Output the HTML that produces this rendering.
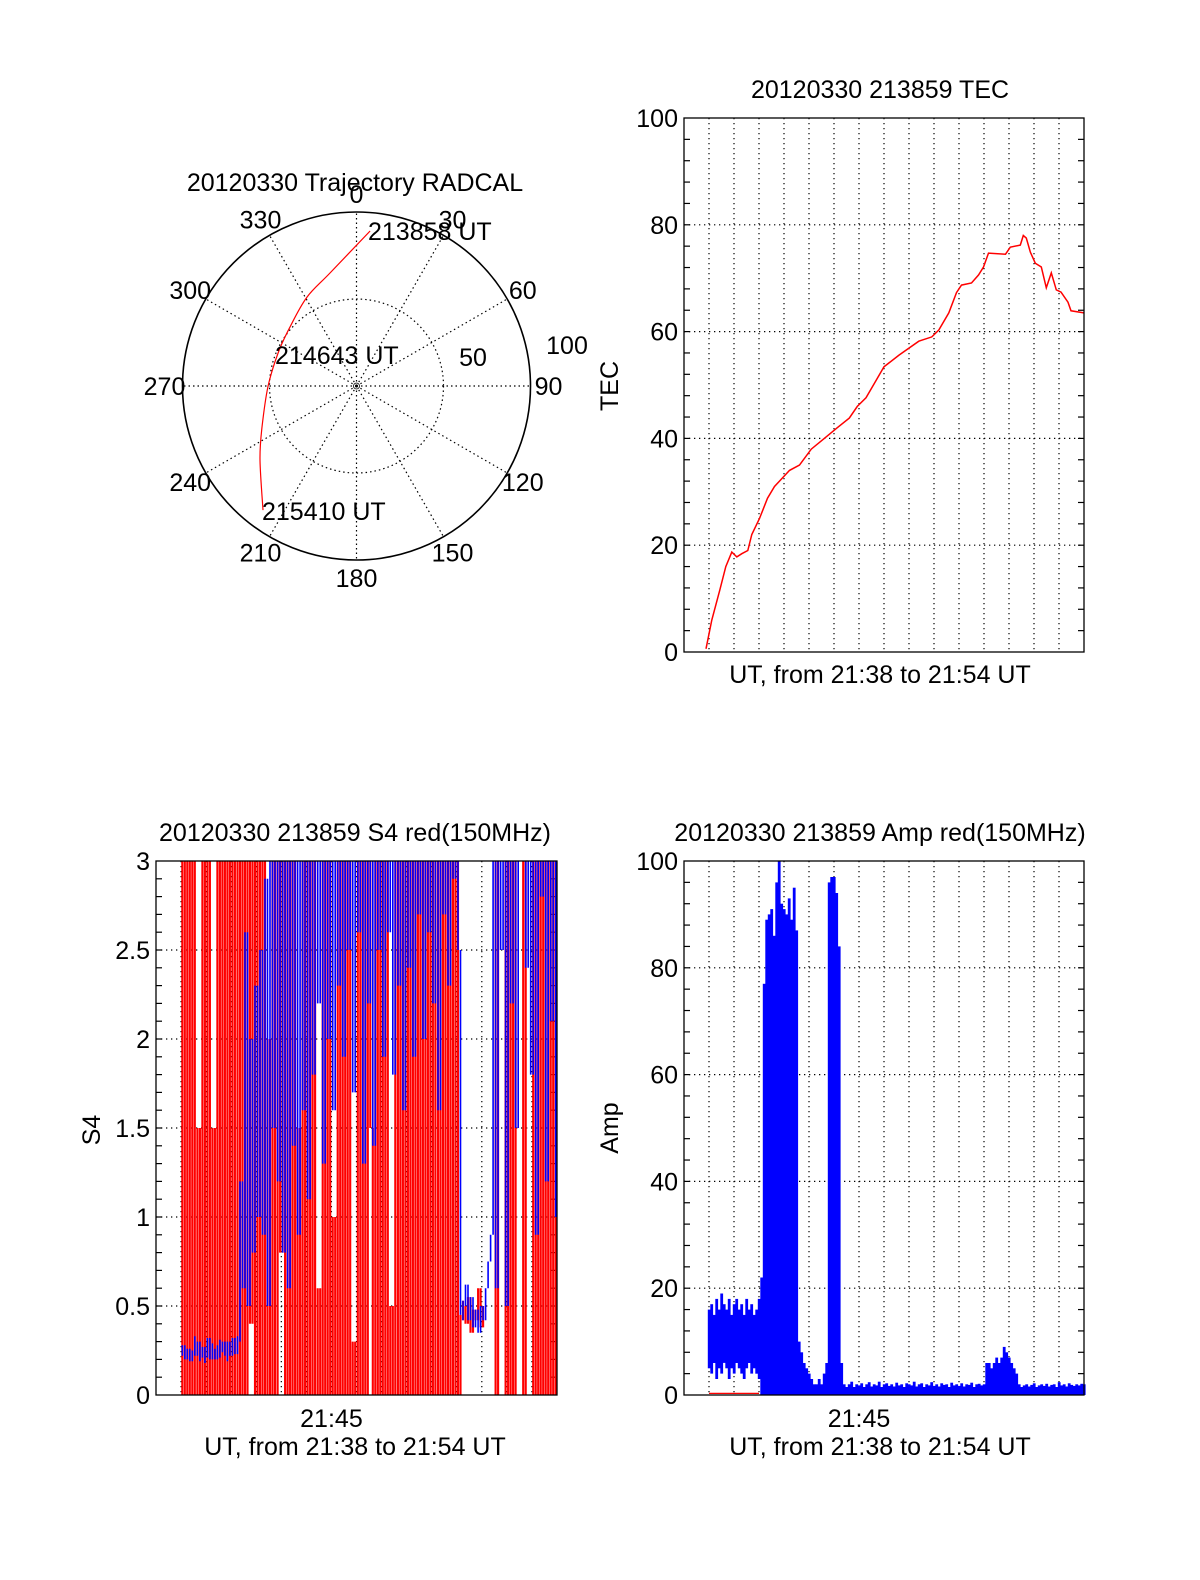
<!DOCTYPE html>
<html><head><meta charset="utf-8"><style>
html,body{margin:0;padding:0;background:#fff;}
svg text{font-family:"Liberation Sans",sans-serif;font-size:25px;fill:#000;}
</style></head><body>
<svg id="fig" width="1200" height="1575" viewBox="0 0 1200 1575" xmlns="http://www.w3.org/2000/svg">
<rect width="1200" height="1575" fill="#fff"/>
<g id="polar"></g>
<g id="tec"></g>
<g id="s4"></g>
<g id="amp"></g>
</svg>
<script>
// ---------- data ----------
const trajAz = [5.0, 346.8, 330.9, 311.6, 292.8, 269.4, 246.5, 232.5, 217.0];
const trajR = [89.4, 66.7, 58.5, 51.1, 48.9, 50.9, 59.2, 69.9, 89.3];
const polarAngleLabels = [0,30,60,90,120,150,180,210,240,270,300,330];

const tecT = [0.88,1.11,1.43,1.67,1.91,2.11,2.31,2.55,2.71,3.02,3.34,3.62,3.82,4.22,4.62,5.09,5.61,6.13,6.61,6.93,7.28,8.0,8.6,9.39,9.91,10.19,10.59,10.9,11.1,11.5,11.78,11.98,12.18,12.86,13.05,13.45,13.57,13.69,13.85,14.05,14.29,14.49,14.69,14.89,15.08,15.36,15.48,16];
const tecV = [0.6,6,11.6,16,18.7,17.8,18.4,19,22,25,28.8,31,32,34,35,38,40,42,43.8,46,47.6,53.4,55.6,58.2,59,60.3,63.5,67.3,68.7,69.1,70.6,72.1,74.7,74.5,75.8,76.2,78,77.5,74.9,72.8,72.1,68.2,71,67.8,67.4,65.5,63.9,63.5];
const tecYTicks = [0,20,40,60,80,100];

const s4Start = 1.0, s4Step = 0.1;
const s4Red = [
0,3.5,0,3.5,0,3.5,0,1.5,0,3.5,0,3.5,0,1.5,0,3.5,0,3.5,0,3.5,0,3.5,0,
3.5,0,3.5,0,3.5,0.4,3.5,0,3.5,0,
3.5,0,2.0,0,3.5,0,3.5,0.8,3.5,0,
3.5,0,3.5,0,1.5,0,3.5,0,3.5,0,
3.5,0,0.6,0,3.5,0,3.5,0,1.0,0,
3.5,0,3.5,0,3.5,0,0.3,0,3.5,0,
3.5,0,3.5,1.5,0,3.5,0,3.5,0,3.5,
0,0.5,0,3.5,0,3.5,0,3.5,0,3.5,
0,3.5,0,3.5,0,3.5,0,3.5,0,3.5,
0,3.5,0,3.5,0,3.5,0,3.5,0,
0.45,0.5,0.4,0.55,0.35,0.48,0.42,0.6,0.38,0.5,null,null,null,
0.0,3.5,0.0,null,0.0,3.5,0.0,3.5,0.0,3.5,null,0.0,3.5,0.0,null,0.0,3.5,0.0,3.5,0.0,3.5,0.0,3.5,0.0,3.5,0.0
];
const s4Blue = [
0.22,0.28,0.2,0.26,0.19,0.25,0.3,0.22,0.27,0.21,0.24,0.29,0.23,0.26,0.2,0.28,0.24,0.3,0.22,0.27,0.25,0.29,0.26,
0.3,1.2,0.6,2.6,0.5,2.0,0.8,2.3,1.0,2.5,0.9,2.9,0.5,3.2,1.5,3.5,1.2,3.4,0.8,3.6,0.6,3.2,1.4,3.5,0.9,3.3,1.6,3.6,1.1,3.4,1.8,3.5,2.2,3.6,1.3,3.2,2.0,3.5,1.6,3.4,2.3,3.6,1.9,3.3,2.5,3.5,1.7,3.4,2.6,3.6,1.3,3.3,2.2,3.5,1.4,3.4,2.5,3.6,1.9,3.5,2.6,3.3,1.8,3.5,2.3,3.6,1.6,3.4,2.4,3.5,1.9,3.6,2.7,3.3,2.0,3.5,2.6,3.4,2.2,3.6,1.6,3.3,2.7,3.5,2.3,3.4,2.9,3.6,2.5,
0.45,0.5,0.62,0.42,0.55,0.38,0.48,0.35,0.5,0.42,0.6,0.75,0.9,
3.5,0.6,3.4,2.5,3.6,0.5,3.3,2.2,3.5,1.5,3.4,3.0,3.6,2.4,3.3,1.8,3.5,0.9,3.4,2.8,3.6,1.2,3.3,2.1,3.5,1.0
];
const s4YTicks = [0,0.5,1,1.5,2,2.5,3];
const s4YLabels = ["0","0.5","1","1.5","2","2.5","3"];

const ampStart = 1.0, ampStep = 0.1;
const ampHigh = [
16,17,15,18,16,19,17,16,18,15,17,18,16,17,15,18,16,17,15,16,18,
22,77,89,90,91,86,96,100,92,91,90,93,89,95,87,10,
8,6,5,4,3,2,2,3,2,4,6,
96,97,97,94,84,6,
2,1.5,2,2.5,1.5,2,1.8,2.2,1.5,2,2.4,1.6,2,1.8,2.5,1.5,2,2.2,1.7,2,1.6,2.3,1.8,2,1.5,2.2,2,1.8,2.5,1.6,2,2.2,1.5,2,1.8,2.4,1.7,2,1.6,2.2,1.9,2,1.5,2.3,1.8,2,1.7,2.2,1.6,2,1.9,2.3,1.5,2,2.1,1.8,2,
6,6,5,6,7,6,7,9,8,7,6,5,4,
2,1.5,1.8,2,1.6,1.9,2.2,1.5,1.8,2,1.7,2.1,1.6,1.9,2,1.5,2.4,1.8,2,1.6,2.2,1.9,1.7,2,1.8,2.1,2
];
const ampLow = [
5,4,6,3,5,4,6,5,3,5,4,6,5,4,3,5,6,4,5,4,3
];
const ampYTicks = [0,20,40,60,80,100];
const ampRedT = [1.0, 3.0];
const ampRedV = [0.3, 0.3];

// ---------- helpers ----------
const NS = "http://www.w3.org/2000/svg";
function mk(parent, tag, attrs, text){
  const e = document.createElementNS(NS, tag);
  for (const k in attrs) e.setAttribute(k, attrs[k]);
  if (text !== undefined) e.textContent = text;
  parent.appendChild(e);
  return e;
}
function axesBox(g, L, R, T, B, prefix){
  const box = mk(g, "rect", {x:L, y:T, width:R-L, height:B-T, fill:"none", stroke:"#000", "stroke-width":1.3});
  
  
}

// ---------- polar ----------
(function(){
  const g = document.getElementById("polar");
  const cx = 356.5, cy = 386, R = 174, rs = R/100;
  const outer = mk(g, "circle", {cx:cx, cy:cy, r:R, fill:"none", stroke:"#000", "stroke-width":1.6});
  
  
  const inner = mk(g, "circle", {cx:cx, cy:cy, r:50*rs, fill:"none", stroke:"#000", "stroke-width":1.2, "stroke-dasharray":"1.5 3"});
  
  
  const c0 = mk(g, "circle", {cx:cx, cy:cy, r:3, fill:"none", stroke:"#000", "stroke-width":0.8});
  
  
  polarAngleLabels.forEach(a => {
    const rad = a*Math.PI/180;
    const sp = mk(g, "line", {x1:cx, y1:cy, x2:cx+R*Math.sin(rad), y2:cy-R*Math.cos(rad), stroke:"#000", "stroke-width":1.2, "stroke-dasharray":"1.5 3"});
    
    
    const lx = cx + 192*Math.sin(rad), ly = cy - 192*Math.cos(rad);
    const t = mk(g, "text", {x:lx, y:ly+9, "text-anchor":"middle"}, String(a));
    
    
  });
  const pts = trajAz.map((az,i)=>{
    const rad = az*Math.PI/180;
    return [cx + trajR[i]*rs*Math.sin(rad), cy - trajR[i]*rs*Math.cos(rad)];
  });
  let d = "M" + pts[0][0].toFixed(1) + " " + pts[0][1].toFixed(1);
  for (let i=0;i<pts.length-1;i++){
    const p0 = pts[Math.max(i-1,0)], p1 = pts[i], p2 = pts[i+1], p3 = pts[Math.min(i+2,pts.length-1)];
    const c1 = [p1[0]+(p2[0]-p0[0])/6, p1[1]+(p2[1]-p0[1])/6];
    const c2 = [p2[0]-(p3[0]-p1[0])/6, p2[1]-(p3[1]-p1[1])/6];
    d += " C" + c1[0].toFixed(1)+" "+c1[1].toFixed(1)+" "+c2[0].toFixed(1)+" "+c2[1].toFixed(1)+" "+p2[0].toFixed(1)+" "+p2[1].toFixed(1);
  }
  const p = mk(g, "path", {d:d, fill:"none", stroke:"#f00", "stroke-width":1.2, "stroke-linejoin":"round"});
  
  
  const texts = [
    ["polar-title", 355, 191, "middle", "20120330 Trajectory RADCAL"],
    ["radius-label-100", 567, 354, "middle", "100"],
    ["radius-label-50", 473, 366, "middle", "50"],
    ["start-time-label", 368, 240, "start", "213858 UT"],
    ["mid-time-label", 275, 364, "start", "214643 UT"],
    ["end-time-label", 262, 520, "start", "215410 UT"]
  ];
  texts.forEach(tt => {
    const t = mk(g, "text", {x:tt[1], y:tt[2], "text-anchor":tt[3]}, tt[4]);
    
    
  });
})();

function frame(g, L, R, T, B, prefix, ticks, labels, ymax, minorStep){
  const yv = v => B - v/ymax*(B-T);
  for (let m=1;m<16;m++){
    const x = L + m*(R-L)/16;
    const gl = mk(g, "line", {x1:x, y1:T, x2:x, y2:B, stroke:"#000", "stroke-width":1.2, "stroke-dasharray":"1.3 3.7"});
    
    
  }
  ticks.forEach((v,i) => {
    const y = yv(v);
    if (v>0 && v<ymax){
      const gl = mk(g, "line", {x1:L, y1:y, x2:R, y2:y, stroke:"#000", "stroke-width":1.2, "stroke-dasharray":"1.3 3.7"});
      
      
    }
    const t = mk(g, "text", {x:L-6, y:y+9, "text-anchor":"end"}, labels[i]);
    
    
  });
  for (let v=minorStep; v<ymax-1e-6; v+=minorStep){
    const y = yv(v);
    const a = mk(g, "line", {x1:L, y1:y, x2:L+6, y2:y, stroke:"#000", "stroke-width":1.2});
    
    
    const b = mk(g, "line", {x1:R-6, y1:y, x2:R, y2:y, stroke:"#000", "stroke-width":1.2});
    
    
  }
  return yv;
}

// ---------- TEC ----------
(function(){
  const g = document.getElementById("tec");
  const L=684,R=1084,T=118,B=652;
  const xv = t => L + t*(R-L)/16;
  const yv = frame(g,L,R,T,B,"tec",tecYTicks,tecYTicks.map(String),100,4);
  let d="";
  tecT.forEach((t,i)=>{ d += (i?" L":"M") + xv(t).toFixed(1) + " " + yv(tecV[i]).toFixed(1); });
  const p = mk(g,"path",{d:d,fill:"none",stroke:"#f00","stroke-width":1.5});
  
  
  axesBox(g,L,R,T,B,"tec");
  const t1 = mk(g,"text",{x:880,y:98,"text-anchor":"middle"},"20120330 213859 TEC");
  
  
  const t2 = mk(g,"text",{x:880,y:683,"text-anchor":"middle"},"UT, from 21:38 to 21:54 UT");
  
  
  const t3 = mk(g,"text",{x:0,y:0,"text-anchor":"middle",transform:"translate(618,386) rotate(-90)"},"TEC");
  
  
})();

// ---------- S4 ----------
(function(){
  const g = document.getElementById("s4");
  const L=156,R=557,T=861,B=1395;
  const xv = t => L + t*(R-L)/16;
  const yv = frame(g,L,R,T,B,"s4",s4YTicks,s4YLabels,3,0.1);
  const defs = mk(g,"defs",{});
  const cp = mk(defs,"clipPath",{id:"s4clip"});
  mk(cp,"rect",{x:L,y:T,width:R-L,height:B-T});
  const dx = (R-L)/16*s4Step;
  function series(vals, color, w, name){
    let d = "";
    for (let i=1;i<vals.length;i++){
      const a = vals[i-1], b = vals[i];
      if (a===null || b===null) continue;
      const x = xv(s4Start + (i-0.5)*s4Step);
      let lo = Math.min(a,b), hi = Math.max(a,b);
      if (hi-lo < 0.06){ lo -= 0.03; hi += 0.03; }
      d += "M" + x.toFixed(1) + " " + yv(lo).toFixed(1) + "V" + yv(hi).toFixed(1);
    }
    const p = mk(g,"path",{d:d,fill:"none",stroke:color,"stroke-width":w,"clip-path":"url(#s4clip)"});
    
    
  }
  series(s4Red,"#f00",dx*0.85,"s4-red-series");
  series(s4Blue,"#00f",1.6,"s4-blue-series");
  axesBox(g,L,R,T,B,"s4");
  const t1 = mk(g,"text",{x:355,y:841,"text-anchor":"middle"},"20120330 213859 S4 red(150MHz)");
  
  
  const t0 = mk(g,"text",{x:xv(7),y:1427,"text-anchor":"middle"},"21:45");
  
  
  const t2 = mk(g,"text",{x:355,y:1455,"text-anchor":"middle"},"UT, from 21:38 to 21:54 UT");
  
  
  const t3 = mk(g,"text",{x:0,y:0,"text-anchor":"middle",transform:"translate(100,1130) rotate(-90)"},"S4");
  
  
})();

// ---------- Amp ----------
(function(){
  const g = document.getElementById("amp");
  const L=684,R=1084,T=861,B=1395;
  const xv = t => L + t*(R-L)/16;
  const yv = frame(g,L,R,T,B,"amp",ampYTicks,ampYTicks.map(String),100,4);
  const bw = (R-L)/16*ampStep;
  ampHigh.forEach((v,i)=>{
    const lo = i < ampLow.length ? ampLow[i] : 0;
    const x = xv(ampStart + i*ampStep);
    const r = mk(g,"rect",{x:(x-bw/2).toFixed(1),y:yv(v).toFixed(1),width:(bw+0.3).toFixed(2),height:(yv(lo)-yv(v)).toFixed(1),fill:"#00f"});
    
    
  });
  const rl = mk(g,"line",{x1:xv(ampRedT[0]),y1:yv(ampRedV[0]),x2:xv(ampRedT[1]),y2:yv(ampRedV[1]),stroke:"#f00","stroke-width":1.2});
  
  
  axesBox(g,L,R,T,B,"amp");
  const t1 = mk(g,"text",{x:880,y:841,"text-anchor":"middle"},"20120330 213859 Amp red(150MHz)");
  
  
  const t0 = mk(g,"text",{x:xv(7),y:1427,"text-anchor":"middle"},"21:45");
  
  
  const t2 = mk(g,"text",{x:880,y:1455,"text-anchor":"middle"},"UT, from 21:38 to 21:54 UT");
  
  
  const t3 = mk(g,"text",{x:0,y:0,"text-anchor":"middle",transform:"translate(618,1128) rotate(-90)"},"Amp");
  
  
})();
</script>
</body></html>
